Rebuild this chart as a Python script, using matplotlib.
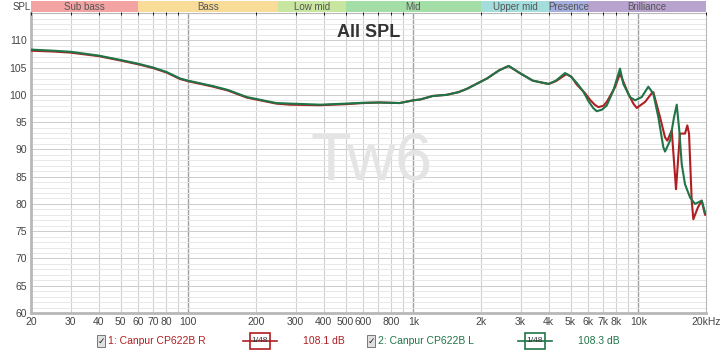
import matplotlib.pyplot as plt
import numpy as np
from matplotlib.patches import Rectangle
from matplotlib.lines import Line2D

plt.rcParams['font.family'] = ['Liberation Sans', 'DejaVu Sans']

# frequency response readings (Hz, dB)
freq_low = [20, 25, 30, 40, 50, 60, 70, 80, 92, 100, 129, 150, 182, 246, 283, 386,
            505, 600, 707, 870, 1000, 1073, 1222, 1404, 1589, 1730, 2125, 2408,
            2654, 3000, 3400, 3990]
spl_l_low = [108.3, 108.1, 107.9, 107.2, 106.4, 105.7, 105.0, 104.2, 103.0, 102.6,
             101.6, 100.9, 99.6, 98.5, 98.4, 98.2, 98.4, 98.55, 98.6, 98.5, 99.0,
             99.15, 99.8, 100.0, 100.5, 101.1, 103.0, 104.5, 105.3, 103.9, 102.6, 102.0]
spl_r_low = [108.1, 107.95, 107.75, 107.1, 106.3, 105.6, 104.9, 104.1, 102.9, 102.5,
             101.5, 100.8, 99.5, 98.4, 98.2, 98.1, 98.3, 98.5, 98.6, 98.5, 99.0,
             99.15, 99.8, 100.0, 100.5, 101.1, 103.0, 104.5, 105.3, 103.9, 102.6, 102.0]

freq_l_hi = [4300, 4726, 5000, 5326, 5698, 5998, 6300, 6537, 6900, 7242, 7746, 8294,
             8580, 9188, 9672, 10358, 11082, 11664, 12276, 12920, 13148, 13836, 14414,
             14820, 15210, 15596, 16130, 16980, 17860, 19140, 19800, 20000]
spl_l_hi = [102.6, 104.0, 103.4, 102.2, 100.6, 98.9, 97.6, 97.0, 97.3, 98.05, 100.8,
            104.8, 102.0, 99.6, 99.0, 99.6, 101.5, 100.2, 95.9, 90.4, 89.6, 91.6, 95.9,
            98.2, 93.5, 87.3, 83.6, 81.2, 80.0, 80.6, 78.4, 78.2]

freq_r_hi = [4300, 4790, 5050, 5326, 5800, 6102, 6400, 6644, 7000, 7242, 7882, 8294,
             9030, 9506, 9840, 10714, 11474, 11664, 12492, 13148, 13460, 14080, 14710,
             15310, 16130, 16516, 16806, 17276, 17564, 18420, 19140, 19800, 20000]
spl_r_hi = [102.5, 103.8, 103.3, 101.9, 100.3, 99.1, 98.2, 97.75, 98.0, 98.7, 101.4,
            103.9, 100.2, 98.4, 97.6, 98.7, 100.3, 100.5, 95.9, 92.2, 91.6, 93.5, 82.7,
            92.9, 92.9, 94.4, 92.9, 80.6, 77.2, 79.4, 80.6, 78.0, 78.0]

bands = ['Sub bass', 'Bass', 'Low mid', 'Mid', 'Upper mid', 'Presence', 'Brilliance']
band_edges = [20, 60, 250, 500, 2000, 4000, 6000, 20000]
band_colors = ['#f4a3a3', '#f8dc98', '#c9e6a0', '#a2dea6', '#a3dedc', '#a6aede', '#b8a3cf']

xticks = [20, 30, 40, 50, 60, 70, 80, 100, 200, 300, 400, 500, 600, 800, 1000,
          2000, 3000, 4000, 5000, 6000, 7000, 8000, 10000, 20000]
xlabels = ['20', '30', '40', '50', '60', '70', '80', '100', '200', '300', '400', '500',
           '600', '800', '1k', '2k', '3k', '4k', '5k', '6k', '7k', '8k', '10k', '20kHz']

red = '#b01e22'
green = '#1f7548'

fig = plt.figure(figsize=(7.2, 3.53), dpi=100)
ax = fig.add_axes([0.043, 0.1133, 0.9376, 0.8497])
ax.set_xscale('log')
ax.set_xlim(20, 20000)
ax.set_ylim(60, 115)

# grid
grid_f = [f * m for m in (10, 100, 1000) for f in range(2, 10)] + [30, 40, 50, 60, 70, 80, 90]
for f in sorted(set(grid_f)):
    ax.axvline(f, color='#d0d0d0', lw=0.8, zorder=0)
for f in (100, 1000, 10000):
    ax.axvline(f, color='#a0a0a0', lw=1.0, zorder=0)
for v in range(61, 115):
    ax.axhline(v, color='#cccccc' if v % 5 == 0 else '#e8e8e8', lw=0.7, zorder=0)

ax.plot(freq_low + freq_r_hi, spl_r_low + spl_r_hi, color=red, lw=1.5, zorder=3)
ax.plot(freq_low + freq_l_hi, spl_l_low + spl_l_hi, color=green, lw=1.5, zorder=4)

ax.set_xticks(xticks)
ax.set_xticklabels(xlabels)
ax.xaxis.set_minor_locator(plt.NullLocator())
ax.set_yticks(range(60, 115, 5))
ax.tick_params(labelsize=7.5, colors='#444444', length=0, pad=3)
for s in ax.spines.values():
    s.set_color('#b8b8b8')
ax.spines['left'].set_linewidth(2)
ax.spines['bottom'].set_linewidth(2)

ax.text(0.5, 0.965, 'All SPL', transform=ax.transAxes, ha='center', va='top',
        fontsize=13, fontweight='bold', color='#333333')
ax.text(0.505, 0.5, 'Tw6', transform=ax.transAxes, ha='center', va='center',
        fontsize=48, color='#e4e4e4', zorder=1)

# band bar
bx = fig.add_axes([0.043, 0.966, 0.9376, 0.031])
bx.set_xscale('log')
bx.set_xlim(20, 20000)
bx.set_ylim(0, 1)
for i, name in enumerate(bands):
    lo, hi = band_edges[i], band_edges[i + 1]
    bx.axvspan(lo, hi, color=band_colors[i], lw=0)
    bx.text(np.sqrt(lo * hi), 0.45, name, ha='center', va='center', fontsize=7,
            color='#555555')
bx.set_xticks([])
bx.set_yticks([])
for s in bx.spines.values():
    s.set_visible(False)
fig.text(0.017, 0.98, 'SPL', ha='left', va='center', fontsize=7, color='#444444')

# legend row
ly = 0.034
for cx, label, val, col, sx in [(0.135, '1: Canpur CP622B R', '108.1 dB', red, 0.34),
                                (0.51, '2: Canpur CP622B L', '108.3 dB', green, 0.722)]:
    fig.patches.append(Rectangle((cx, ly - 0.016), 0.0115, 0.032, transform=fig.transFigure,
                                 facecolor='#e0e0e0', edgecolor='#777777', lw=0.7))
    fig.text(cx + 0.0058, ly, '\u2713', ha='center', va='center', fontsize=6.5,
             color='#222222', family='DejaVu Sans')
    fig.text(cx + 0.0155, ly, label, ha='left', va='center', fontsize=7.5, color=col)
    fig.lines.append(Line2D([sx - 0.003, sx + 0.045], [ly, ly], transform=fig.transFigure,
                            color=col, lw=1.2))
    fig.patches.append(Rectangle((sx + 0.007, ly - 0.022), 0.028, 0.044,
                                 transform=fig.transFigure, facecolor='white',
                                 edgecolor=col, lw=1.2))
    fig.text(sx + 0.021, ly, '1/48', ha='center', va='center', fontsize=6, color='#333333')
    fig.text(sx + 0.081, ly, val, ha='left', va='center', fontsize=7.5, color=col)

fig.savefig('out.png', dpi=100, facecolor='white')
